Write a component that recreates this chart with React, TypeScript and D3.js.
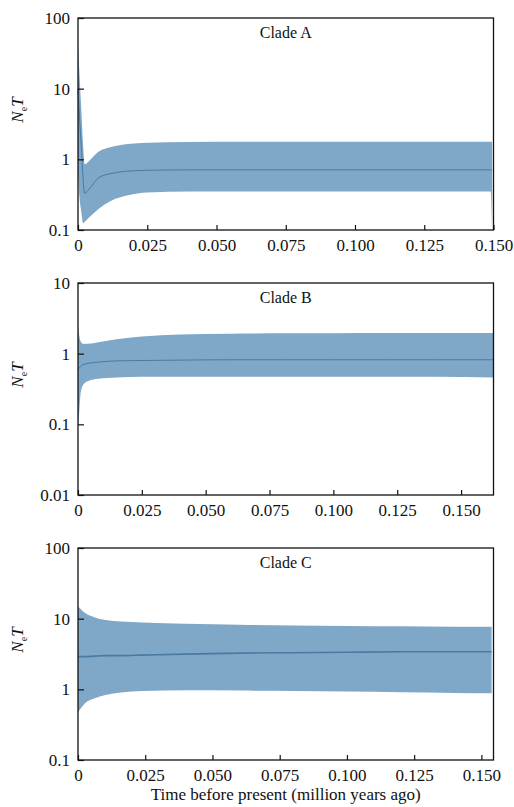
import React, { useRef, useEffect } from 'react';
import * as d3 from 'd3';

// Clade A
const timeA = [0, 0.0005, 0.0012, 0.0018, 0.0024, 0.004, 0.0075, 0.012, 0.018, 0.025, 0.04, 0.06, 0.08, 0.1, 0.12, 0.14, 0.149, 0.1495];
const upperA = [42, 17, 5, 1.7, 0.85, 0.95, 1.29, 1.5, 1.65, 1.72, 1.76, 1.77, 1.78, 1.78, 1.78, 1.78, 1.78, 1.78];
const medianA = [10, 4.2, 1.5, 0.55, 0.33, 0.38, 0.55, 0.63, 0.68, 0.7, 0.71, 0.71, 0.71, 0.71, 0.71, 0.71, 0.71, 0.71];
const lowerA = [0.6, 0.3, 0.18, 0.125, 0.13, 0.15, 0.2, 0.26, 0.31, 0.34, 0.35, 0.35, 0.35, 0.35, 0.35, 0.35, 0.35, 0.1];

// Clade B
const timeB = [0, 0.0005, 0.001, 0.002, 0.004, 0.008, 0.015, 0.025, 0.04, 0.06, 0.08, 0.1, 0.12, 0.14, 0.1627];
const upperB = [2.5, 1.8, 1.5, 1.38, 1.38, 1.45, 1.6, 1.75, 1.87, 1.92, 1.94, 1.95, 1.96, 1.96, 1.96];
const medianB = [0.6, 0.63, 0.66, 0.7, 0.73, 0.76, 0.79, 0.8, 0.81, 0.82, 0.82, 0.82, 0.82, 0.82, 0.82];
const lowerB = [0.1, 0.15, 0.27, 0.36, 0.41, 0.44, 0.46, 0.47, 0.47, 0.47, 0.47, 0.47, 0.47, 0.47, 0.46];

// Clade C
const timeC = [0, 0.0027, 0.006, 0.0102, 0.016, 0.0238, 0.04, 0.06, 0.08, 0.1, 0.12, 0.14, 0.1538];
const upperC = [15, 12, 10.5, 9.6, 9.1, 8.8, 8.5, 8.2, 8.0, 7.9, 7.8, 7.7, 7.7];
const medianC = [2.9, 2.9, 2.95, 3.0, 3.0, 3.05, 3.15, 3.25, 3.3, 3.35, 3.4, 3.4, 3.4];
const lowerC = [0.47, 0.64, 0.74, 0.83, 0.9, 0.95, 0.97, 0.96, 0.95, 0.93, 0.91, 0.89, 0.88];

const xTicks = [0, 0.025, 0.05, 0.075, 0.1, 0.125, 0.15];
const yTicksA = [0.1, 1, 10, 100];
const yTicksB = [0.01, 0.1, 1, 10];
const yTicksC = [0.1, 1, 10, 100];

const clades = [
    { name: 'Clade A', time: timeA, upper: upperA, median: medianA, lower: lowerA, yTicks: yTicksA, xMax: 0.15, top: 18, lineWidth: 1 },
    { name: 'Clade B', time: timeB, upper: upperB, median: medianB, lower: lowerB, yTicks: yTicksB, xMax: 0.1627, top: 283, lineWidth: 1 },
    { name: 'Clade C', time: timeC, upper: upperC, median: medianC, lower: lowerC, yTicks: yTicksC, xMax: 0.1545, top: 548, lineWidth: 1.6 },
];

const FONT = '"Liberation Serif", "Times New Roman", serif';

const App = () => {
    const chartRef = useRef<HTMLDivElement>(null);

    useEffect(() => {
        d3.select(chartRef.current).select('svg').remove();

        const width = 514, height = 807;
        const left = 78, right = 493.5, panelH = 212;

        const svg = d3.select(chartRef.current)
            .append('svg')
            .attr('width', width)
            .attr('height', height)
            .style('position', 'absolute')
            .style('left', 0)
            .style('top', 0)
            .style('font-family', FONT);

        svg.append('rect').attr('width', width).attr('height', height).attr('fill', '#fff');

        clades.forEach(c => {
            const top = c.top, bottom = top + panelH;
            const x = d3.scaleLinear().domain([0, c.xMax]).range([left, right]);
            const y = d3.scaleLog()
                .domain([c.yTicks[0], c.yTicks[c.yTicks.length - 1]])
                .range([bottom, top]);

            const g = svg.append('g');
            const rows = c.time.map((t, i) => ({ t, lo: c.lower[i], md: c.median[i], hi: c.upper[i] }));

            // band
            g.append('path')
                .datum(rows)
                .attr('fill', '#7fa7c8')
                .attr('d', d3.area<any>()
                    .x(d => x(d.t))
                    .y0(d => y(d.lo))
                    .y1(d => y(d.hi))
                    .curve(d3.curveMonotoneX));

            // median
            g.append('path')
                .datum(rows)
                .attr('fill', 'none')
                .attr('stroke', '#4a7aa2')
                .attr('stroke-width', c.lineWidth)
                .attr('d', d3.line<any>()
                    .x(d => x(d.t))
                    .y(d => y(d.md))
                    .curve(d3.curveMonotoneX));

            // frame
            g.append('rect')
                .attr('x', left).attr('y', top)
                .attr('width', right - left).attr('height', panelH)
                .attr('fill', 'none')
                .attr('stroke', '#111')
                .attr('stroke-width', 1.3);

            // x axis
            const xAxis = g.append('g')
                .attr('transform', `translate(0,${bottom})`)
                .call(d3.axisBottom(x)
                    .tickValues(xTicks)
                    .tickSizeInner(-5)
                    .tickSizeOuter(0)
                    .tickPadding(9)
                    .tickFormat(d => (+d === 0 ? '0' : d3.format('.3f')(+d))));
            xAxis.select('.domain').remove();
            xAxis.selectAll('line').attr('stroke', '#111').attr('stroke-width', 1.2);
            xAxis.selectAll('text')
                .attr('font-family', FONT)
                .attr('font-size', 17)
                .attr('fill', '#111');

            // y axis
            const yAxis = g.append('g')
                .attr('transform', `translate(${left},0)`)
                .call(d3.axisLeft(y)
                    .tickValues(c.yTicks)
                    .tickSizeInner(-6)
                    .tickSizeOuter(0)
                    .tickPadding(8)
                    .tickFormat(d => String(+d)));
            yAxis.select('.domain').remove();
            yAxis.selectAll('line').attr('stroke', '#111').attr('stroke-width', 1.2);
            yAxis.selectAll('text')
                .attr('font-family', FONT)
                .attr('font-size', 17)
                .attr('fill', '#111');

            // y label
            const yl = g.append('text')
                .attr('transform', `translate(23,${top + 92}) rotate(-90)`)
                .attr('text-anchor', 'middle')
                .attr('font-size', 17)
                .attr('fill', '#111');
            yl.append('tspan').attr('font-style', 'italic').text('N');
            yl.append('tspan').attr('font-size', 10).attr('dy', 4).text('e');
            yl.append('tspan').attr('font-style', 'italic').attr('dy', -4).text('T');

            // clade label
            g.append('text')
                .attr('x', (left + right) / 2)
                .attr('y', top + 20)
                .attr('text-anchor', 'middle')
                .attr('font-size', 16)
                .attr('fill', '#111')
                .text(c.name);
        });

        svg.append('text')
            .attr('x', (left + right) / 2)
            .attr('y', 800)
            .attr('text-anchor', 'middle')
            .attr('font-size', 17)
            .attr('fill', '#111')
            .text('Time before present (million years ago)');
    }, []);

    return <div ref={chartRef} />;
};

export default App;
